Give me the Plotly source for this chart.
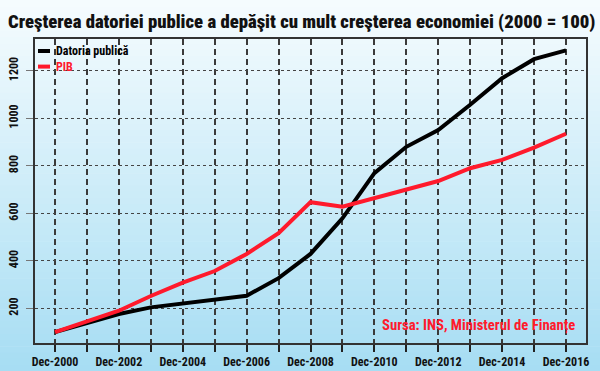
import plotly.graph_objects as go

# ---- data ----
years = list(range(2000, 2017))
tick_labels = [f"Dec-{y}" if y % 2 == 0 else "" for y in years]
datoria_publica = [100, 137, 176, 204, 221, 235, 253, 327, 429, 579, 769, 880, 951, 1057, 1169, 1249, 1286]
pib = [100, 146, 190, 252, 308, 357, 429, 516, 647, 628, 664, 699, 736, 790, 825, 877, 935]
y_ticks = [200, 400, 600, 800, 1000, 1200]

title_text = "Creşterea datoriei publice a depăşit cu mult creşterea economiei (2000 = 100)"
source_text = "Sursa: INS, Ministerul de Finanțe"
legend_names = ["Datoria publică", "PIB"]
line_colors = ["#000000", "#ff1a2c"]

W, H = 600, 371
ML, MR, MT, MB = 35, 14, 39, 28
PW, PH = W - ML - MR, H - MT - MB
FONT = "Roboto Condensed, Open Sans Condensed, DejaVu Sans Condensed, sans-serif"


def px_x(px):
    return (px - ML) / PW


def px_y(py):
    return (H - MB - py) / PH


fig = go.Figure()
for name, vals, col in zip(legend_names, [datoria_publica, pib], line_colors):
    fig.add_trace(go.Scatter(x=years, y=vals, mode="lines", name=name,
                             line=dict(color=col, width=4), showlegend=False))

shapes = []
# background gradient
N = 60
top = (246, 252, 254)
bot = (166, 221, 243)
for i in range(N):
    t = (i + 0.5) / N
    c = tuple(int(round(top[k] + (bot[k] - top[k]) * t)) for k in range(3))
    y0 = H * i / N
    y1 = H * (i + 1) / N + 0.6
    shapes.append(dict(type="rect", xref="paper", yref="paper", layer="below",
                       x0=px_x(-2), x1=px_x(W + 2), y0=px_y(y1), y1=px_y(y0),
                       fillcolor=f"rgb{c}", line=dict(width=0)))

# manual legend (swatches + one text block)
LEG_FS = 12
LINE_STEP = LEG_FS * 1.3
leg_top = 51
for k, col in enumerate(line_colors):
    yy = leg_top + k * LINE_STEP
    shapes.append(dict(type="line", xref="paper", yref="paper", x0=px_x(38), x1=px_x(50),
                       y0=px_y(yy), y1=px_y(yy), line=dict(color=col, width=4)))

legend_html = "<br>".join(
    f"<span style='color:{col}'><b>{nm}</b></span>" for nm, col in zip(legend_names, line_colors))

annotations = [
    dict(text=legend_html, xref="paper", yref="paper", x=px_x(54), y=px_y(leg_top + LINE_STEP / 2),
         xanchor="left", yanchor="middle", align="left", showarrow=False,
         font=dict(family=FONT, size=LEG_FS, color="#000")),
    dict(text=f"<b>{source_text}</b>", xref="paper", yref="paper", x=px_x(577), y=px_y(325),
         xanchor="right", yanchor="middle", showarrow=False,
         font=dict(family=FONT, size=14.7, color="#ff1a2c")),
]

fig.update_layout(
    width=W, height=H, autosize=False,
    margin=dict(l=ML, r=MR, t=MT, b=MB),
    paper_bgcolor="rgba(0,0,0,0)", plot_bgcolor="rgba(0,0,0,0)",
    title=dict(text=title_text, x=8 / W, xanchor="left", y=1 - 21 / H, yanchor="middle",
               font=dict(family=FONT, size=18.7, color="#111", weight=900)),
    shapes=shapes, annotations=annotations,
    xaxis=dict(range=[2000 - 20 / 31.9, 2016 + 20 / 31.9], tickvals=years, ticktext=tick_labels,
               automargin=False,
               ticks="outside", ticklen=7, tickwidth=2, tickcolor="#222",
               showgrid=True, gridcolor="#3a3a3a", gridwidth=2, griddash="6px,4px",
               showline=True, linecolor="#333", linewidth=2, mirror=True, zeroline=False,
               tickfont=dict(family=FONT, size=12, color="#111", weight="bold"), tickangle=0),
    yaxis=dict(range=[54, 1334], tickvals=y_ticks, tickangle=-90, ticklabelstandoff=3,
               automargin=False,
               ticks="outside", ticklen=7, tickwidth=1, tickcolor="#777",
               showgrid=True, gridcolor="#444", gridwidth=1, griddash="3px,3px",
               showline=True, linecolor="#333", linewidth=2, mirror=True, zeroline=False,
               tickfont=dict(family=FONT, size=12, color="#111", weight="bold")),
)

fig.write_html("out.html", config={"displayModeBar": False},
               post_script="document.body.style.margin='0';document.body.style.overflow='hidden';")
